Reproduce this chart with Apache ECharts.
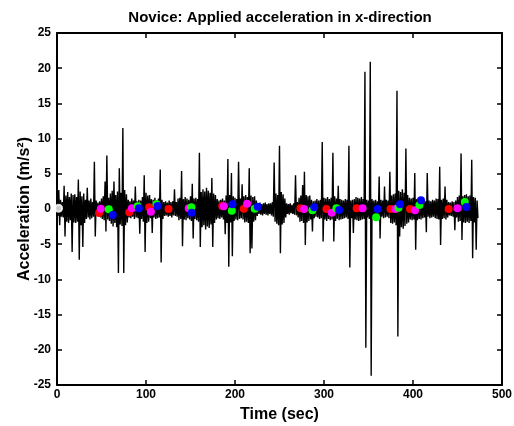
<!DOCTYPE html>
<html>
<head>
<meta charset="utf-8">
<script src="https://cdn.jsdelivr.net/npm/echarts@6/dist/echarts.min.js"></script>
<style>html,body{margin:0;padding:0;background:#fff}#c{width:514px;height:426px}</style>
</head>
<body>
<div id="c"></div>
<script>
// Signal envelope: upper value at t = 0,2,4,... and lower value at t = 1,3,5,... (sec)
const upperVals = [
  1.1, 2.7, 1.3, 1.0, 3.3, 1.9, 2.4, 1.7, 2.2, 2.0,
  2.1, 1.7, 4.2, 2.5, 1.8, 2.2, 1.3, 3.0, 1.2, 1.5,
  1.0, 6.7, 1.2, 0.9, 1.1, 1.5, 1.8, 3.9, 7.6, 1.6,
  2.2, 2.6, 3.9, 2.0, 2.5, 5.8, 2.3, 11.5, 2.7, 2.1,
  1.3, 1.1, 1.5, 1.2, 3.2, 1.1, 1.3, 1.2, 1.7, 4.8,
  2.3, 1.9, 2.0, 1.4, 1.3, 1.6, 1.2, 1.5, 5.6, 1.3,
  1.0, 1.1, 0.9, 1.2, 1.0, 1.1, 2.8, 1.0, 1.5, 1.6,
  5.4, 1.4, 1.7, 1.5, 1.3, 1.8, 3.6, 1.5, 1.6, 1.4,
  8.0, 2.4, 2.8, 2.5, 3.0, 2.6, 2.3, 4.4, 2.2, 2.0,
  1.4, 1.2, 1.3, 1.5, 1.2, 1.9, 7.1, 2.0, 5.1, 1.8,
  1.6, 1.4, 6.7, 1.5, 3.5, 1.8, 2.0, 1.7, 5.8, 1.9,
  1.7, 1.8, 1.2, 0.8, 0.9, 0.7, 0.8, 0.9, 0.7, 0.8,
  0.8, 1.0, 6.6, 2.2, 2.0, 9.0, 2.4, 2.1, 1.5, 0.8,
  0.7, 0.8, 0.6, 0.8, 4.8, 1.0, 1.6, 1.9, 3.4, 5.3,
  2.0, 1.8, 1.9, 1.3, 1.1, 1.2, 1.4, 1.2, 1.3, 9.5,
  1.6, 1.5, 1.7, 1.4, 1.6, 8.0, 1.8, 1.5, 3.3, 1.4,
  1.3, 1.2, 1.4, 1.3, 9.0, 1.2, 1.3, 1.4, 1.7, 1.6,
  1.5, 1.7, 1.4, 19.5, 1.3, 1.2, 20.9, 1.4, 1.2, 1.3,
  1.1, 4.6, 1.3, 1.2, 3.2, 1.3, 1.2, 5.3, 1.9, 2.1,
  2.2, 16.8, 2.6, 2.4, 2.8, 2.3, 8.6, 2.0, 1.6, 1.5,
  1.6, 5.1, 1.4, 1.5, 1.7, 1.2, 1.3, 1.1, 5.1, 1.2,
  1.1, 1.3, 1.2, 1.5, 1.4, 6.0, 1.3, 1.5, 3.2, 1.3,
  1.0, 0.9, 1.1, 1.0, 1.2, 1.7, 1.9, 7.9, 1.8, 2.0,
  2.1, 1.8, 1.9, 7.0, 1.7, 1.6, 1.2
];
const lowerVals = [
  -1.0, -2.3, -1.1, -1.2, -3.9, -1.8, -2.0, -1.6, -6.1, -1.9,
  -2.0, -1.8, -7.2, -2.3, -5.4, -2.0, -1.4, -1.2, -1.5, -1.3,
  -1.1, -3.9, -0.9, -1.0, -1.2, -1.4, -1.6, -3.2, -1.5, -1.7,
  -2.1, -2.5, -2.0, -2.6, -9.1, -2.2, -2.4, -9.1, -2.3, -1.9,
  -1.2, -1.3, -1.1, -1.4, -1.2, -1.3, -3.5, -1.4, -1.8, -6.1,
  -2.0, -1.8, -1.3, -3.4, -1.2, -1.4, -1.3, -1.2, -7.6, -1.4,
  -1.0, -0.9, -1.1, -1.0, -1.2, -0.9, -1.0, -1.1, -1.6, -1.4,
  -5.3, -1.5, -1.6, -1.3, -1.5, -1.7, -4.2, -1.4, -1.6, -1.8,
  -5.4, -2.6, -2.3, -2.9, -2.5, -2.7, -2.2, -5.4, -2.0, -1.5,
  -1.3, -1.4, -1.2, -1.5, -3.6, -2.0, -8.2, -1.9, -6.7, -1.7,
  -1.5, -1.6, -1.4, -1.3, -1.5, -1.9, -1.8, -2.0, -6.3, -5.6,
  -1.8, -1.6, -1.0, -0.7, -0.8, -0.9, -0.7, -0.8, -0.9, -0.7,
  -0.9, -1.1, -1.8, -2.1, -2.3, -6.3, -2.2, -2.0, -1.2, -0.7,
  -0.8, -0.6, -0.7, -0.8, -0.9, -1.2, -1.8, -1.7, -2.0, -5.1,
  -1.9, -1.7, -1.5, -3.2, -1.3, -1.1, -1.2, -1.4, -1.3, -4.6,
  -1.5, -1.7, -1.4, -1.6, -1.5, -4.6, -1.7, -1.4, -1.6, -1.5,
  -1.4, -1.3, -1.2, -1.4, -8.3, -1.3, -3.4, -1.5, -1.6, -1.7,
  -1.6, -1.5, -1.4, -19.7, -1.2, -1.4, -23.7, -1.3, -1.2, -1.4,
  -1.2, -4.2, -1.1, -1.3, -1.2, -1.1, -1.3, -2.0, -2.1, -1.9,
  -2.3, -18.1, -3.9, -2.6, -2.8, -2.4, -2.1, -1.9, -1.5, -1.6,
  -1.5, -5.8, -1.6, -1.4, -1.5, -1.3, -1.2, -3.3, -1.1, -1.3,
  -1.2, -1.1, -1.3, -1.4, -1.5, -5.1, -1.4, -1.3, -1.5, -1.2,
  -0.9, -1.0, -1.1, -3.0, -1.2, -1.8, -1.7, -4.4, -1.9, -2.0,
  -1.8, -2.0, -1.7, -7.0, -1.9, -5.8, -1.3
];
const sampleStep = 2; // seconds per upper/lower pair

// Event markers [time (sec), acceleration]
const startMarker = [[1.8, 0.1]];
const redDots = [[47.3,-0.57],[81.2,-0.47],[103.6,0.24],[125.3,0],[185.7,0.43],[209.9,0.05],[273.6,0.1],[302.7,0],[336.7,0.1],[374.7,0],[396.6,0],[440,0]];
const magentaDots = [[49.2,0.05],[84.2,0.1],[105.5,-0.38],[148,0.1],[187.5,0.38],[213.6,0.75],[277.7,0],[308.7,-0.52],[343.4,0.1],[380.3,0],[402.3,-0.19],[450,0.1]];
const greenDots = [[58.2,-0.05],[90.6,0.38],[111.8,0.67],[151,0.24],[196.4,-0.24],[222.2,0.05],[287,-0.19],[313.9,0.1],[358.6,-1.18],[383.7,0.19],[407.2,0.57],[458.2,1.0]];
const blueDots = [[62.6,-0.85],[92,0.1],[113,0.43],[151.3,-0.52],[197.2,0.67],[225.5,0.33],[289,0.24],[316.9,-0.14],[360.2,0],[385.5,0.67],[409,1.23],[460,0.28]];

const xTicks = [0, 100, 200, 300, 400, 500];
const yTicks = [-25, -20, -15, -10, -5, 0, 5, 10, 15, 20, 25];

const titleText = 'Novice: Applied acceleration in x-direction';
const xName = 'Time (sec)';
const yName = 'Acceleration (m/s²)';

// Build the line data from the envelope arrays
const signal = [];
for (let i = 0; i < upperVals.length; i++) {
  signal.push([i * sampleStep, upperVals[i]]);
  signal.push([i * sampleStep + sampleStep / 2, lowerVals[i]]);
}

const FONT = 'Liberation Sans';
const axisCommon = {
  axisLine: { show: true, onZero: false, lineStyle: { color: '#000', width: 2 } },
  axisTick: { show: true, inside: true, length: 5, lineStyle: { color: '#000', width: 1.5 } },
  splitLine: { show: false }
};

const chart = echarts.init(document.getElementById('c'), null, { renderer: 'canvas' });
chart.setOption({
  animation: false,
  backgroundColor: '#fff',
  title: {
    text: titleText, left: 275, top: 5, textAlign: 'center',
    textStyle: { fontFamily: FONT, fontWeight: 'bold', fontSize: 15, color: '#000' }
  },
  grid: { left: 57, right: 12, top: 33, bottom: 41, outerBoundsMode: 'none', containLabel: false },
  xAxis: [
    Object.assign({
      type: 'value', min: xTicks[0], max: xTicks[xTicks.length - 1], interval: 100,
      name: xName, nameLocation: 'middle', nameGap: 22, nameMoveOverlap: false,
      nameTextStyle: { fontFamily: FONT, fontWeight: 'bold', fontSize: 16, color: '#000' },
      axisLabel: { fontFamily: FONT, fontWeight: 'bold', fontSize: 12, color: '#000', margin: 4 }
    }, axisCommon),
    Object.assign({
      type: 'value', position: 'top', min: xTicks[0], max: xTicks[xTicks.length - 1], interval: 100,
      axisLabel: { show: false }
    }, axisCommon)
  ],
  yAxis: [
    Object.assign({
      type: 'value', min: yTicks[0], max: yTicks[yTicks.length - 1], interval: 5,
      name: yName, nameLocation: 'middle', nameGap: 24, nameMoveOverlap: false,
      nameTextStyle: { fontFamily: FONT, fontWeight: 'bold', fontSize: 16, color: '#000' },
      axisLabel: { fontFamily: FONT, fontWeight: 'bold', fontSize: 12, color: '#000', margin: 6 }
    }, axisCommon),
    Object.assign({
      type: 'value', position: 'right', min: yTicks[0], max: yTicks[yTicks.length - 1], interval: 5,
      axisLabel: { show: false }
    }, axisCommon)
  ],
  series: [
    {
      type: 'line', data: signal, showSymbol: false, symbol: 'none', sampling: null,
      lineStyle: { color: '#000', width: 1.4, join: 'bevel' }, silent: true, z: 2
    },
    { type: 'scatter', data: startMarker, symbol: 'emptyCircle', symbolSize: 7,
      itemStyle: { color: '#fff', borderColor: '#ff0000', borderWidth: 1 }, z: 3 },
    { type: 'scatter', data: redDots, symbolSize: 8, itemStyle: { color: '#ff0000', opacity: 1 }, z: 3 },
    { type: 'scatter', data: magentaDots, symbolSize: 8, itemStyle: { color: '#ff00ff', opacity: 1 }, z: 3 },
    { type: 'scatter', data: greenDots, symbolSize: 8, itemStyle: { color: '#00ff00', opacity: 1 }, z: 3 },
    { type: 'scatter', data: blueDots, symbolSize: 8, itemStyle: { color: '#0000ff', opacity: 1 }, z: 3 }
  ]
});
</script>
</body>
</html>
